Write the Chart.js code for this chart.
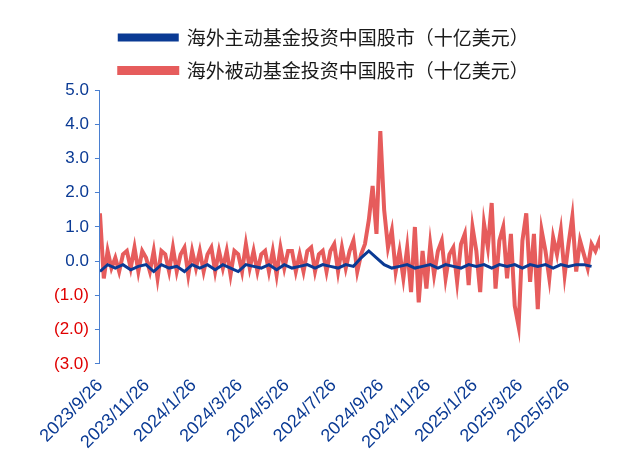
<!DOCTYPE html>
<html>
<head>
<meta charset="utf-8">
<script src="https://cdn.jsdelivr.net/npm/chart.js@4/dist/chart.umd.min.js"></script>
<style>
  html, body { margin: 0; padding: 0; background: #fff; }
  #wrap { width: 628px; height: 476px; }
</style>
</head>
<body>
<div id="wrap"><canvas id="c"></canvas></div>
<script>
// start date of the series and tick labels (every 2 months)
const startDate = '2023/9/26';
const tickLabels = ['2023/9/26', '2023/11/26', '2024/1/26', '2024/3/26', '2024/5/26',
    '2024/7/26', '2024/9/26', '2024/11/26', '2025/1/26', '2025/3/26', '2025/5/26'];

// passive funds, one reading every 5 days (bn USD)
const passiveStep = 5;
const passive = [
    1.4, -0.5, 0.3, -0.2, 0.1, -0.3, 0.2,
    0.3, -0.2, 0.4, -0.3, 0.3, 0.1, -0.3, 0.3, -0.5, 0.3, 0.2, -0.3,
    0.4, -0.3, 0.2, 0.4, -0.4, 0.3, -0.2, 0.3, -0.3, 0.2, 0.4, -0.3,
    0.3, -0.2, 0.3, -0.4, 0.3, 0.2, -0.3, 0.5, -0.2, 0.3, -0.3, 0.2,
    0.3, -0.3, 0.3, -0.4, 0.4, -0.2, 0.3, 0.3, -0.3, 0.2, -0.3, 0.3,
    0.4, -0.3, 0.2, 0.3, -0.3, 0.3, 0.5, -0.3, 0.4, -0.2, 0.3, 0.6, -0.3, 0.2, 0.5, 1.2, 2.2, 0.8,
    3.8, 1.5, 0.4, 0.9, -0.3, 0.3, -0.5, 0.4, -0.9,
    1.0, -1.2, 0.3, -0.8, 0.5, -0.4, 0.3, 0.6, -0.5, 0.2, 0.4, -0.6, 0.5, 0.8, -0.7, 1.0, 0.3,
    -0.9, 1.1, 0.4, 1.7, -0.8, 0.6, 1.0, -0.5, 0.8, -1.3, -1.9, 0.6, 1.4,
    -0.6, 0.8, -1.4, 0.9, 0.3, -0.5, 0.7, 0.2, 0.9, -0.4, 0.5, 1.3, -0.3, 0.6, 0.2, -0.2, 0.5, 0.3, 0.6, 0.2
];

// active funds, one reading every 10 days (bn USD)
const activeStep = 10;
const active = [
    -0.3, -0.1, -0.2, -0.1, -0.25, -0.15, -0.1, -0.3, -0.1, -0.2, -0.15, -0.3,
    -0.1, -0.2, -0.1, -0.25, -0.1, -0.2, -0.3, -0.1, -0.15, -0.2, -0.1, -0.25,
    -0.1, -0.2, -0.15, -0.1, -0.2, -0.1, -0.15, -0.2, -0.1, -0.15, 0.1, 0.3,
    0.1, -0.1, -0.2, -0.15, -0.1, -0.2, -0.15, -0.1, -0.2, -0.1, -0.15, -0.2,
    -0.1, -0.15, -0.1, -0.2, -0.1, -0.15, -0.1, -0.2, -0.1, -0.15, -0.1, -0.2,
    -0.1, -0.15, -0.1, -0.1, -0.15
];

function dayOf(s) {
    const [y, m, d] = s.split('/').map(Number);
    const [y0, m0, d0] = startDate.split('/').map(Number);
    return Math.round((Date.UTC(y, m - 1, d) - Date.UTC(y0, m0 - 1, d0)) / 86400000);
}
const tickDays = tickLabels.map(dayOf);

const blue = '#0a3a94';
const red = '#e65c5c';

new Chart(document.getElementById('c'), {
    type: 'line',
    data: {
        datasets: [{
            label: '海外主动基金投资中国股市（十亿美元）',
            data: active.map((v, i) => ({ x: i * activeStep, y: v })),
            borderColor: blue, backgroundColor: blue,
            borderWidth: 3, pointRadius: 0, tension: 0
        }, {
            label: '海外被动基金投资中国股市（十亿美元）',
            data: passive.map((v, i) => ({ x: i * passiveStep, y: v })),
            borderColor: red, backgroundColor: red,
            borderWidth: 4, pointRadius: 0, tension: 0
        }]
    },
    options: {
        responsive: true,
        maintainAspectRatio: false,
        animation: false,
        layout: { padding: { left: 48, right: 28, top: 14, bottom: 20 } },
        plugins: {
            legend: {
                position: 'top',
                labels: {
                    boxWidth: 58, boxHeight: 5, padding: 14,
                    color: '#1a1a1a',
                    font: { family: 'Noto Sans CJK SC', size: 19 }
                }
            },
            tooltip: { enabled: false }
        },
        scales: {
            x: {
                type: 'linear',
                min: 0, max: 651,
                afterBuildTicks: function (scale) {
                    scale.ticks = tickDays.map(v => ({ value: v }));
                },
                ticks: {
                    autoSkip: false,
                    maxRotation: 45, minRotation: 45,
                    color: blue,
                    font: { family: 'Liberation Sans', size: 18 },
                    callback: function (v) { return tickLabels[tickDays.indexOf(v)]; }
                },
                grid: { display: false },
                border: { display: false }
            },
            y: {
                min: -3, max: 5,
                ticks: {
                    stepSize: 1,
                    padding: 6,
                    color: ctx => ctx.tick.value < 0 ? '#e00000' : blue,
                    font: { family: 'Liberation Sans', size: 17 },
                    callback: v => v < 0 ? '(' + Math.abs(v).toFixed(1) + ')' : v.toFixed(1)
                },
                grid: { drawOnChartArea: false, color: '#4a7fd0', tickLength: 5 },
                border: { color: '#4a7fd0', width: 1 }
            }
        }
    }
});
</script>
</body>
</html>
